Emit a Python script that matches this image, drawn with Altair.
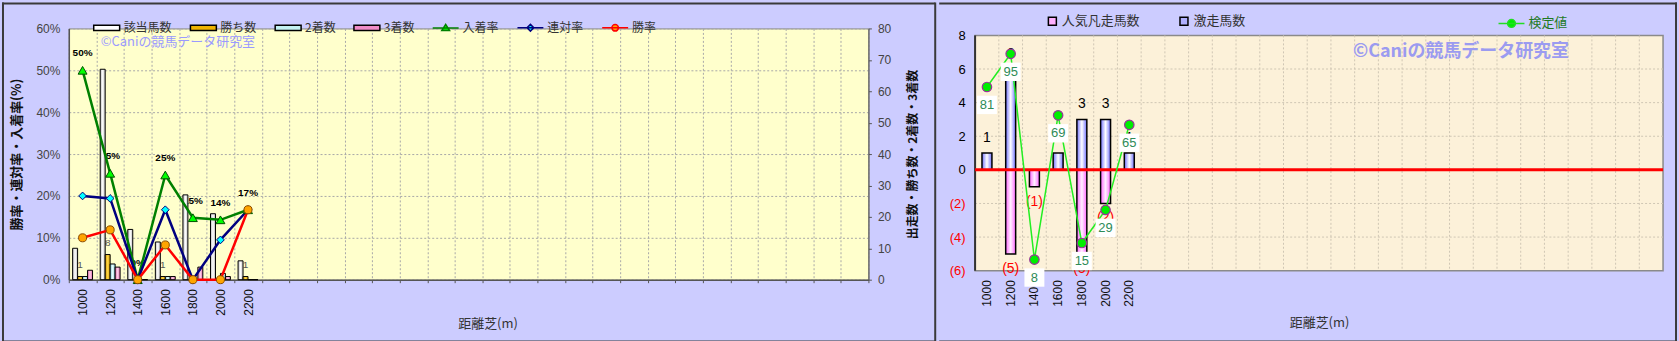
import altair as alt
import pandas as pd

# ---------------- data ----------------
distances = ["1000", "1200", "1400", "1600", "1800", "2000", "2200"]
runners = [10, 67, 16, 12, 27, 21, 6]          # 該当馬数
wins = [1, 8, 0, 1, 0, 0, 1]                   # 勝ち数
seconds = [1, 5, 0, 1, 0, 2, 0]                # 2着数
thirds = [3, 4, 0, 1, 4, 1, 0]                 # 3着数
place_rate = [50.0, 25.4, 0.0, 25.0, 14.8, 14.3, 16.7]     # 入着率 (%)
quinella_rate = [20.0, 19.4, 0.0, 16.7, 0.0, 9.5, 16.7]    # 連対率 (%)
win_rate = [10.0, 11.9, 0.0, 8.3, 0.0, 0.0, 16.7]          # 勝率 (%)

surge_counts = [1, 6, 0, 1, 3, 3, 1]           # 激走馬数
flop_counts = [0, -5, -1, 0, -5, -2, 0]        # 人気凡走馬数
test_values = [81, 95, 8, 69, 15, 29, 65]      # 検定値
baseline = [0]                                 # 基準線
right_ticks = [-6, -4, -2, 0, 2, 4, 6, 8]      # right panel y ticks

n_slots = 29
x_domain = distances + [f"_{i}" for i in range(n_slots - len(distances))]

bar_names = ["該当馬数", "勝ち数", "2着数", "3着数"]
rate_names = ["入着率", "連対率", "勝率"]

bar_df = pd.DataFrame([
    {"dist": d, "series": s, "count": v}
    for s, vals in zip(bar_names, [runners, wins, seconds, thirds])
    for d, v in zip(distances, vals)
])
rate_df = pd.DataFrame([
    {"dist": d, "series": s, "rate": v}
    for s, vals in zip(rate_names, [place_rate, quinella_rate, win_rate])
    for d, v in zip(distances, vals)
])
right_df = pd.DataFrame({
    "dist": distances, "surge": surge_counts, "flop": flop_counts, "test": test_values
})
one = pd.DataFrame({"k": [0]})

FONT_JP = "Noto Sans CJK JP"
FONT_NUM = "Liberation Sans"
BG = "#ccccff"
BORDER = "#3a3a3a"
LBL_EXPR = "substring(datum.value, 0, 1) == '_' ? '' : datum.value"


def grad(edge, mid):
    return alt.Gradient(
        gradient="linear",
        stops=[alt.GradientStop(color=edge, offset=0),
               alt.GradientStop(color=mid, offset=0.5),
               alt.GradientStop(color=edge, offset=1)],
        x1=0, x2=1, y1=0, y2=0)


def border_rule(**enc):
    return alt.Chart(one).mark_rule(color=BORDER, strokeWidth=2).encode(
        **{k: alt.value(v) for k, v in enc.items()})


# ======================= LEFT PANEL =======================
LW, LH = 802, 252


def x_left():
    return alt.X(
        "dist:N",
        scale=alt.Scale(domain=x_domain, paddingInner=0, paddingOuter=0),
        axis=alt.Axis(
            title="距離芝(m)", labelAngle=270, labelExpr=LBL_EXPR, tickBand="extent",
            grid=True, gridColor="#a8a8a8", gridDash=[2, 2], gridWidth=1,
            tickSize=3, tickColor="#555555", domainColor="#555555", domainWidth=1.5,
            labelPadding=6, labelFontSize=12, labelFont=FONT_NUM, labelColor="#111111",
            titleFont=FONT_JP, titleFontSize=13, titleFontWeight="normal",
            titleColor="#333333", titlePadding=2, titleX=420),
    )


def y_pct(show=True):
    ax = alt.Axis(
        orient="left", values=list(range(0, 61, 10)), labelExpr="datum.value + '%'",
        title="勝率・連対率・入着率(%)", grid=True, gridColor="#a8a8a8", gridDash=[2, 2],
        tickSize=0, labelPadding=9, labelFontSize=12, labelFont=FONT_NUM,
        labelColor="#444444", domainColor="#555555", domainWidth=1.5, labelOverlap=False,
        titleFont=FONT_JP, titleFontSize=13, titleFontWeight="bold", titleColor="#111111",
        titlePadding=12, minExtent=33, maxExtent=33)
    return alt.Y("rate:Q", scale=alt.Scale(domain=[0, 60], nice=False),
                 axis=ax if show else None)


def y_cnt():
    return alt.Y(
        "count:Q", scale=alt.Scale(domain=[0, 80], nice=False),
        axis=alt.Axis(
            orient="right", values=list(range(0, 81, 10)),
            title="出走数・勝ち数・2着数・3着数", titleAngle=270, grid=False,
            tickSize=3, tickColor="#555555", domainColor="#555555", labelPadding=6,
            labelFontSize=12, labelFont=FONT_NUM, labelColor="#444444", labelOverlap=False,
            titleFont=FONT_JP, titleFontSize=12, titleFontWeight="bold",
            titleColor="#111111", titlePadding=29))


xoff = alt.XOffset("series:N", scale=alt.Scale(domain=bar_names, paddingInner=0,
                                                paddingOuter=0.77))

# A: rate labels (drawn under the bars)
rate_labels = alt.Chart(rate_df).transform_filter(
    "datum.series == '入着率'"
).transform_calculate(
    lbl="format(datum.rate, '.0f') + '%'"
).mark_text(dy=-17, fontSize=10, fontWeight="bold", font=FONT_NUM, color="#000000").encode(
    x=x_left(), y=y_pct(False), text="lbl:N")

# B: bars + win-count labels
bar_styles = {
    "該当馬数": ("#bdbdbd", "#ffffff"),
    "勝ち数": ("#d79a00", "#ffd84a"),
    "2着数": ("#86cbd8", "#eaffff"),
    "3着数": ("#e06aac", "#ffd0ea"),
}
win_labels = alt.Chart(bar_df).transform_filter(
    "datum.series == '勝ち数' && datum.count > 0"
).mark_text(dy=-12, fontSize=10, font=FONT_NUM, color="#555555").encode(
    x=x_left(), xOffset=xoff, y=y_cnt(), text="count:Q")
bar_layers = [
    alt.Chart(bar_df).transform_filter(alt.datum.series == s).mark_bar(
        fill=grad(*bar_styles[s]), stroke="#000000", strokeWidth=1
    ).encode(x=x_left(), xOffset=xoff, y=y_cnt())
    for s in bar_names
]
bars_group = alt.layer(win_labels, *bar_layers)

# C: rate lines + markers
line_colors = {"入着率": "#008000", "連対率": "#000080", "勝率": "#ff0000"}
markers = {
    "入着率": ("triangle-up", "#00ff00", "#005000", 80),
    "連対率": ("diamond", "#00ffff", "#000080", 60),
    "勝率": ("circle", "#ffa500", "#8a4a00", 65),
}
line_layers = [
    alt.Chart(rate_df).transform_filter(alt.datum.series == s).mark_line(
        color=line_colors[s], strokeWidth=2.5).encode(x=x_left(), y=y_pct())
    for s in rate_names
]
point_layers = [
    alt.Chart(rate_df).transform_filter(alt.datum.series == s).mark_point(
        shape=markers[s][0], filled=True, fill=markers[s][1], stroke=markers[s][2],
        strokeWidth=1, size=markers[s][3], opacity=1).encode(x=x_left(), y=y_pct())
    for s in rate_names
]
lines_group = alt.layer(*line_layers, *point_layers)

# D: legend (dummy invisible layer carrying fill/stroke/shape scales)
legend_names = bar_names + rate_names
fill_range = ["#ffffff", "#f0b400", "#c4f2f2", "#f08cc8", "#00ff00", "#00ffff", "#ffa500"]
stroke_range = ["#000000"] * 4 + ["#008000", "#000080", "#ff0000"]
bar_sym = "M-1,-0.2H1V0.2H-1Z"
shape_range = [bar_sym] * 4 + [
    "M-1,0H1M0,-0.28L0.3,0.2H-0.3Z",
    "M-1,0H1M0,-0.26L0.26,0L0,0.26L-0.26,0Z",
    "M-1,0H1M0.25,0A0.25,0.25 0 1,1 -0.25,0A0.25,0.25 0 1,1 0.25,0Z",
]
left_leg = alt.Legend(
    orient="none", legendX=24, legendY=-15, direction="horizontal", columns=7,
    gridAlign="each", title=None, symbolSize=676, symbolStrokeWidth=1.5,
    symbolOpacity=1, labelFont=FONT_JP, labelFontSize=12, labelColor="#333333",
    labelOffset=3, columnPadding=15)
legend_df = pd.DataFrame({"series": legend_names})
left_legend = alt.Chart(legend_df).mark_point(filled=True, opacity=0).encode(
    fill=alt.Fill("series:N", scale=alt.Scale(domain=legend_names, range=fill_range),
                  legend=left_leg),
    stroke=alt.Stroke("series:N", scale=alt.Scale(domain=legend_names, range=stroke_range),
                      legend=left_leg),
    shape=alt.Shape("series:N", scale=alt.Scale(domain=legend_names, range=shape_range),
                    legend=left_leg),
)

# E: watermark + panel borders
left_wm = alt.Chart(one).mark_text(
    text="©Caniの競馬データ研究室", align="left", baseline="middle",
    font=FONT_JP, fontSize=13, color="#9a9aff").encode(x=alt.value(32), y=alt.value(14))
left_borders = [
    border_rule(x=-67, x2=869, y=-25),
    border_rule(x=-67, x2=869, y=314),
    border_rule(x=-66, y=-26, y2=315),
    border_rule(x=869, y=-26, y2=315),
]

left = alt.layer(
    rate_labels, bars_group, lines_group, left_legend, left_wm, *left_borders
).resolve_scale(y="independent").properties(
    width=LW, height=LH,
    view=alt.ViewBackground(fill="#ffffcc", stroke="#8a8a8a", strokeWidth=1))

# ======================= RIGHT PANEL =======================
# group origin shares the left panel's top; the data frame starts 7px lower
RW, RH = 690, 243
R_RANGE = [243, 7]
y_lo, y_hi = min(right_ticks), max(right_ticks)


def x_right(band_pos=None):
    kw = {} if band_pos is None else {"bandPosition": band_pos}
    return alt.X(
        "dist:N",
        scale=alt.Scale(domain=x_domain, paddingInner=0, paddingOuter=0),
        axis=alt.Axis(
            title="距離芝(m)", labelAngle=270, labelExpr=LBL_EXPR,
            grid=False, tickSize=0, domain=False, labelPadding=9, labelFontSize=12,
            labelFont=FONT_NUM, labelColor="#111111",
            titleFont=FONT_JP, titleFontSize=13, titleFontWeight="normal",
            titleColor="#333333", titlePadding=10),
        **kw,
    )


def y_right(field="v"):
    return alt.Y(
        f"{field}:Q", scale=alt.Scale(domain=[y_lo, y_hi], nice=False, range=R_RANGE),
        axis=alt.Axis(
            values=right_ticks,
            labelExpr="datum.value < 0 ? '(' + (-datum.value) + ')' : '' + datum.value",
            labelColor={"condition": {"test": "datum.value < 0", "value": "#ff0000"},
                        "value": "#000000"},
            title=None, grid=False, domain=False, tickSize=0, labelPadding=10,
            labelFontSize=13, labelFont=FONT_NUM, labelOverlap=False, labelBound=False))


frame_df = pd.DataFrame({"v": [y_hi], "v2": [y_lo]})
vgrid_df = pd.DataFrame({"dist": x_domain[1:], "v": y_hi, "v2": y_lo})
hgrid_df = pd.DataFrame({"v": [t for t in right_ticks if y_lo < t < y_hi]})

plot_bg = alt.Chart(frame_df).mark_rect(
    fill="#fcf1d9", stroke="#8a8a8a", strokeWidth=1.5).encode(
    x=alt.value(0), x2=alt.value(RW), y=y_right(), y2="v2:Q")
hgrid = alt.Chart(hgrid_df).mark_rule(
    color="#cfc6b4", strokeDash=[2, 2], strokeWidth=1).encode(y=y_right())
vgrid = alt.Chart(vgrid_df).mark_rule(
    color="#cfc6b4", strokeDash=[2, 2], strokeWidth=1).encode(
    x=x_right(0), y=y_right(), y2="v2:Q")
y_domain_line = alt.Chart(frame_df).mark_rule(color="#333333", strokeWidth=2).encode(
    x=alt.value(0), y=y_right(), y2="v2:Q")

surge_df = right_df.rename(columns={"surge": "v"})
flop_df = right_df.rename(columns={"flop": "v"})

surge_bars = alt.Chart(surge_df).mark_bar(
    fill=grad("#7070ff", "#ffffff"), stroke="#000000", strokeWidth=1.5,
    width=alt.RelativeBandSize(0.42)).encode(x=x_right(), y=y_right())
flop_bars = alt.Chart(flop_df).mark_bar(
    fill=grad("#ff66ff", "#fff0ff"), stroke="#000000", strokeWidth=1.5,
    width=alt.RelativeBandSize(0.42)).encode(x=x_right(), y=y_right())
surge_labels = alt.Chart(surge_df).transform_filter("datum.v > 0").mark_text(
    dy=-15, fontSize=14, font=FONT_NUM, color="#000000").encode(
    x=x_right(), y=y_right(), text="v:Q")
flop_labels = alt.Chart(flop_df).transform_filter("datum.v < 0").transform_calculate(
    lbl="'(' + (-datum.v) + ')'").mark_text(
    dy=15, fontSize=14, font=FONT_NUM, color="#ff0000").encode(
    x=x_right(), y=y_right(), text="lbl:N")
zero_line = alt.Chart(pd.DataFrame({"v": baseline})).mark_rule(
    color="#ff0000", strokeWidth=3).encode(y=y_right())

count_group = alt.layer(plot_bg, hgrid, vgrid, y_domain_line, surge_bars, flop_bars,
                        surge_labels, flop_labels, zero_line)

y_test = alt.Y("test:Q", scale=alt.Scale(domain=[3.3, 102.8], nice=False, zero=False,
                                         range=R_RANGE), axis=None)
test_line = alt.Chart(right_df).mark_line(color="#22ee22", strokeWidth=1.5).encode(
    x=x_right(), y=y_test)
test_points = alt.Chart(right_df).mark_point(
    shape="circle", filled=True, fill="#00ee00", stroke="#993399", strokeWidth=1.2,
    size=90, opacity=1).encode(x=x_right(), y=y_test)
test_boxes = alt.Chart(right_df).mark_point(
    shape="M-1,-0.92H1V0.92H-1Z", filled=True, fill="#ffffff", opacity=1,
    size=400, yOffset=18).encode(x=x_right(), y=y_test)
test_text = alt.Chart(right_df).mark_text(
    dy=18, fontSize=13, font=FONT_NUM, color="#2e8b57").encode(
    x=x_right(), y=y_test, text="test:Q")
test_group = alt.layer(test_line, test_points, test_boxes, test_text)

# legends
right_bar_names = ["人気凡走馬数", "激走馬数"]
right_bar_leg = alt.Legend(
    orient="none", legendX=71, legendY=-14, direction="horizontal", columns=2,
    gridAlign="each", title=None, symbolType="square", symbolSize=64,
    symbolStrokeColor="#000000", symbolStrokeWidth=1.5, symbolOpacity=1,
    labelFont=FONT_JP, labelFontSize=13, labelColor="#333333", labelOffset=3,
    columnPadding=36)
right_bar_legend = alt.Chart(pd.DataFrame({"series": right_bar_names})).mark_point(
    filled=True, opacity=0).encode(
    fill=alt.Fill("series:N", scale=alt.Scale(domain=right_bar_names,
                                              range=["#ffb0ff", "#b0b0ff"]),
                  legend=right_bar_leg))

test_names = ["検定値"]
test_leg = alt.Legend(
    orient="none", legendX=524, legendY=-19, direction="horizontal", title=None,
    symbolSize=676, symbolStrokeWidth=1.5, symbolOpacity=1, labelFont=FONT_JP,
    labelFontSize=13, labelColor="#1f7a1f", labelOffset=3)
test_legend = alt.Chart(pd.DataFrame({"series": test_names})).mark_point(
    filled=True, opacity=0).encode(
    fill=alt.Fill("series:N", scale=alt.Scale(domain=test_names, range=["#00ee00"]),
                  legend=test_leg),
    stroke=alt.Stroke("series:N", scale=alt.Scale(domain=test_names, range=["#22dd22"]),
                      legend=test_leg),
    shape=alt.Shape("series:N", scale=alt.Scale(
        domain=test_names,
        range=["M-1,0H1M0.3,0A0.3,0.3 0 1,1 -0.3,0A0.3,0.3 0 1,1 0.3,0Z"]),
        legend=test_leg))

right_wm = alt.Chart(one).mark_text(
    text="©Caniの競馬データ研究室", align="left", baseline="middle",
    font=FONT_JP, fontSize=18, fontWeight="bold", color="#9b9bf0").encode(
    x=alt.value(379), y=alt.value(24))
right_borders = [
    border_rule(x=-36, x2=704, y=-25),
    border_rule(x=-36, x2=704, y=314),
    border_rule(x=703, y=-26, y2=315),
]

right = alt.layer(
    count_group, right_wm, test_group, right_bar_legend, test_legend, *right_borders
).resolve_scale(
    y="independent", fill="independent", stroke="independent", shape="independent"
).properties(
    width=RW, height=RH,
    view=alt.ViewBackground(fill="transparent", stroke="transparent"))

chart = alt.hconcat(left, right, spacing=0).resolve_scale(
    fill="independent", stroke="independent", shape="independent", color="independent"
).resolve_legend(
    fill="independent", stroke="independent", shape="independent", color="independent"
).properties(padding=0, background=BG).configure_legend(padding=0)

chart.save("out.html", embed_options={"renderer": "svg", "actions": False})
